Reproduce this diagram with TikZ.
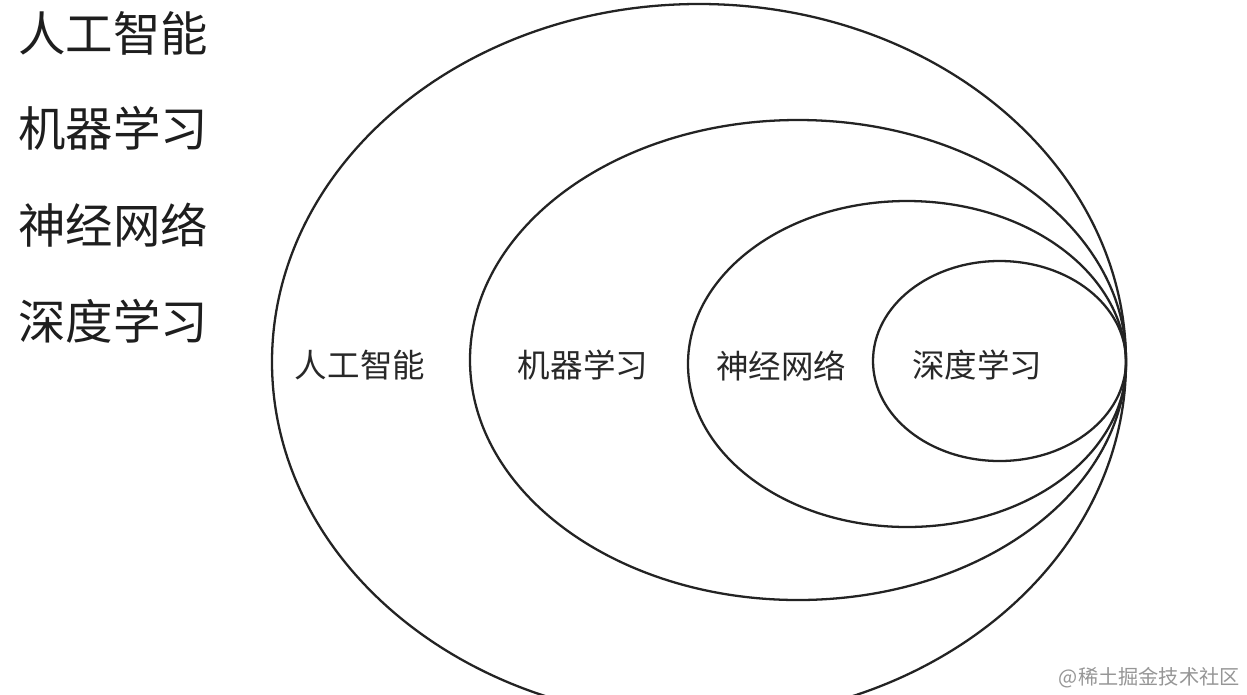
\documentclass[tikz,border=0pt]{standalone}
\usepackage{fontspec}
\newfontfamily\cjk{Noto Sans CJK SC}
\usetikzlibrary{positioning}
\tikzset{
  ring/.style={draw={rgb,255:red,35;green,35;blue,35}, line width=1.3pt},
  bigtag/.style={font=\cjk\fontsize{27}{27}\selectfont, text={rgb,255:red,30;green,30;blue,30}, inner sep=0pt, anchor=west},
  ringtag/.style={font=\cjk\fontsize{18.5}{18.5}\selectfont, text={rgb,255:red,40;green,40;blue,40}, inner sep=0pt}
}
\begin{document}
\begin{tikzpicture}[x=0.02cm,y=-0.02cm]
\clip (0,0) rectangle (1247,694);
\fill[white] (0,0) rectangle (1247,694);
% nested sets, all touching on the right
\draw[ring] (699,362) ellipse [x radius=427, y radius=358];
\draw[ring] (798,360) ellipse [x radius=328, y radius=240];
\draw[ring] (907,364) ellipse [x radius=219, y radius=163];
\draw[ring] (999.5,361) ellipse [x radius=126.5, y radius=100];
% legend on the left
\node[bigtag] (aiL) at (18,33) {人工智能};
\node[bigtag] (mlL) at (18,128) {机器学习};
\node[bigtag] (nnL) at (18,225) {神经网络};
\node[bigtag] (dlL) at (18,321) {深度学习};
% labels inside the rings
\node[ringtag] (ai) at (360,365) {人工智能};
\node[ringtag] (ml) at (583,365) {机器学习};
\node[ringtag] (nn) at (781,366) {神经网络};
\node[ringtag] (dl) at (977,365) {深度学习};
% watermark
\node[font=\cjk\fontsize{11.5}{11.5}\selectfont, text={rgb,255:red,150;green,150;blue,150}, inner sep=0pt, anchor=east] (mark) at (1240,678) {@稀土掘金技术社区};
\end{tikzpicture}
\end{document}
